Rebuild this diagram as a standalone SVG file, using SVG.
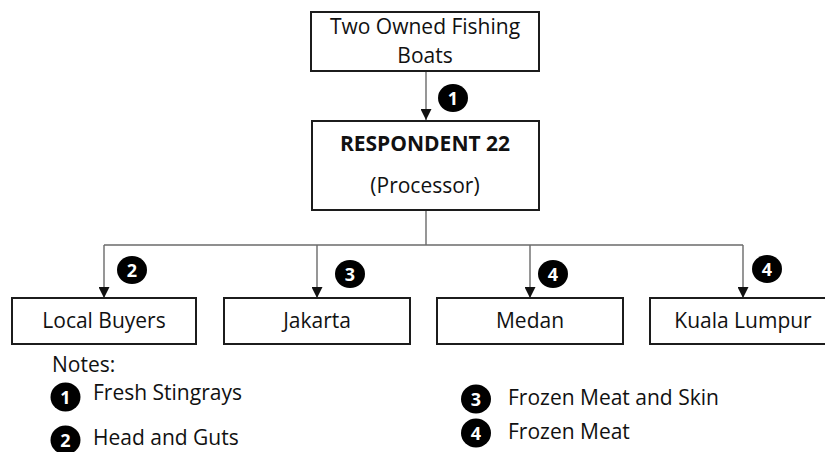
<svg xmlns="http://www.w3.org/2000/svg" width="825" height="452" viewBox="0 0 825 452">
  <style>
    .box { fill: #ffffff; stroke: #1c1c1c; stroke-width: 2; }
    .lbl { font-family: "Open Sans", "Noto Sans", "Liberation Sans", sans-serif; font-size: 21px; fill: #111111; }
    .mid { text-anchor: middle; }
    .bold { font-weight: bold; }
    .wire { fill: none; stroke: #6a6a6a; stroke-width: 1.4; }
    .badge { fill: #000000; }
    .num { font-family: "Open Sans", "Noto Sans", "Liberation Sans", sans-serif; font-size: 18px; font-weight: bold; fill: #ffffff; text-anchor: middle; }
  </style>
  <defs>
    <marker id="arrow" viewBox="0 0 10 10" refX="10" refY="5" markerWidth="11" markerHeight="11" markerUnits="userSpaceOnUse" orient="auto">
      <path d="M0,0 L10,5 L0,10 Z" fill="#111111"/>
    </marker>
  </defs>

  <rect width="825" height="452" fill="#ffffff"/>

  <!-- connectors -->
  <g id="connectors">
    <line class="wire" x1="426" y1="71" x2="426" y2="120" marker-end="url(#arrow)"/>
    <polyline class="wire" points="426,211 426,245"/>
    <line class="wire" x1="104" y1="245" x2="743" y2="245"/>
    <line class="wire" x1="104" y1="245" x2="104" y2="298" marker-end="url(#arrow)"/>
    <line class="wire" x1="317" y1="245" x2="317" y2="298" marker-end="url(#arrow)"/>
    <line class="wire" x1="530" y1="245" x2="530" y2="298" marker-end="url(#arrow)"/>
    <line class="wire" x1="743" y1="245" x2="743" y2="298" marker-end="url(#arrow)"/>
  </g>

  <!-- flow badges -->
  <g id="badges">
    <ellipse class="badge" cx="453" cy="98" rx="15" ry="14"/>
    <text class="num" x="453" y="104.5">1</text>
    <ellipse class="badge" cx="132" cy="270" rx="15" ry="14"/>
    <text class="num" x="132" y="276.5">2</text>
    <ellipse class="badge" cx="350" cy="274" rx="15" ry="14"/>
    <text class="num" x="350" y="280.5">3</text>
    <ellipse class="badge" cx="553" cy="274" rx="15" ry="14"/>
    <text class="num" x="553" y="280.5">4</text>
    <ellipse class="badge" cx="767" cy="269" rx="15" ry="14"/>
    <text class="num" x="767" y="275.5">4</text>
  </g>

  <g id="boats">
    <rect class="box" x="311" y="12" width="228" height="59"/>
    <text class="lbl mid" x="425" y="34">Two Owned Fishing</text>
    <text class="lbl mid" x="425" y="63">Boats</text>
  </g>

  <g id="respondent">
    <rect class="box" x="312" y="121" width="227" height="89"/>
    <text class="lbl mid bold" x="425" y="151">RESPONDENT 22</text>
    <text class="lbl mid" x="425" y="193">(Processor)</text>
  </g>

  <g id="local-buyers">
    <rect class="box" x="12" y="298" width="184" height="46"/>
    <text class="lbl mid" x="104" y="328">Local Buyers</text>
  </g>

  <g id="jakarta">
    <rect class="box" x="224" y="298" width="186" height="46"/>
    <text class="lbl mid" x="317" y="328">Jakarta</text>
  </g>

  <g id="medan">
    <rect class="box" x="437" y="298" width="186" height="46"/>
    <text class="lbl mid" x="530" y="328">Medan</text>
  </g>

  <g id="kuala-lumpur">
    <rect class="box" x="650" y="298" width="180" height="46"/>
    <text class="lbl mid" x="743" y="328">Kuala Lumpur</text>
  </g>

  <!-- legend -->
  <g id="notes">
    <text class="lbl" x="52" y="372">Notes:</text>
    <ellipse class="badge" cx="65.5" cy="397" rx="15" ry="14.5"/>
    <text class="num" x="65.5" y="403.5">1</text>
    <text class="lbl" x="93" y="400">Fresh Stingrays</text>
    <ellipse class="badge" cx="65.5" cy="440" rx="15" ry="14.5"/>
    <text class="num" x="65.5" y="446.5">2</text>
    <text class="lbl" x="93" y="445">Head and Guts</text>
    <ellipse class="badge" cx="476" cy="399" rx="15" ry="14.5"/>
    <text class="num" x="476" y="405.5">3</text>
    <text class="lbl" x="508" y="405">Frozen Meat and Skin</text>
    <ellipse class="badge" cx="476" cy="433" rx="15" ry="14.5"/>
    <text class="num" x="476" y="439.5">4</text>
    <text class="lbl" x="508" y="439">Frozen Meat</text>
  </g>
</svg>
